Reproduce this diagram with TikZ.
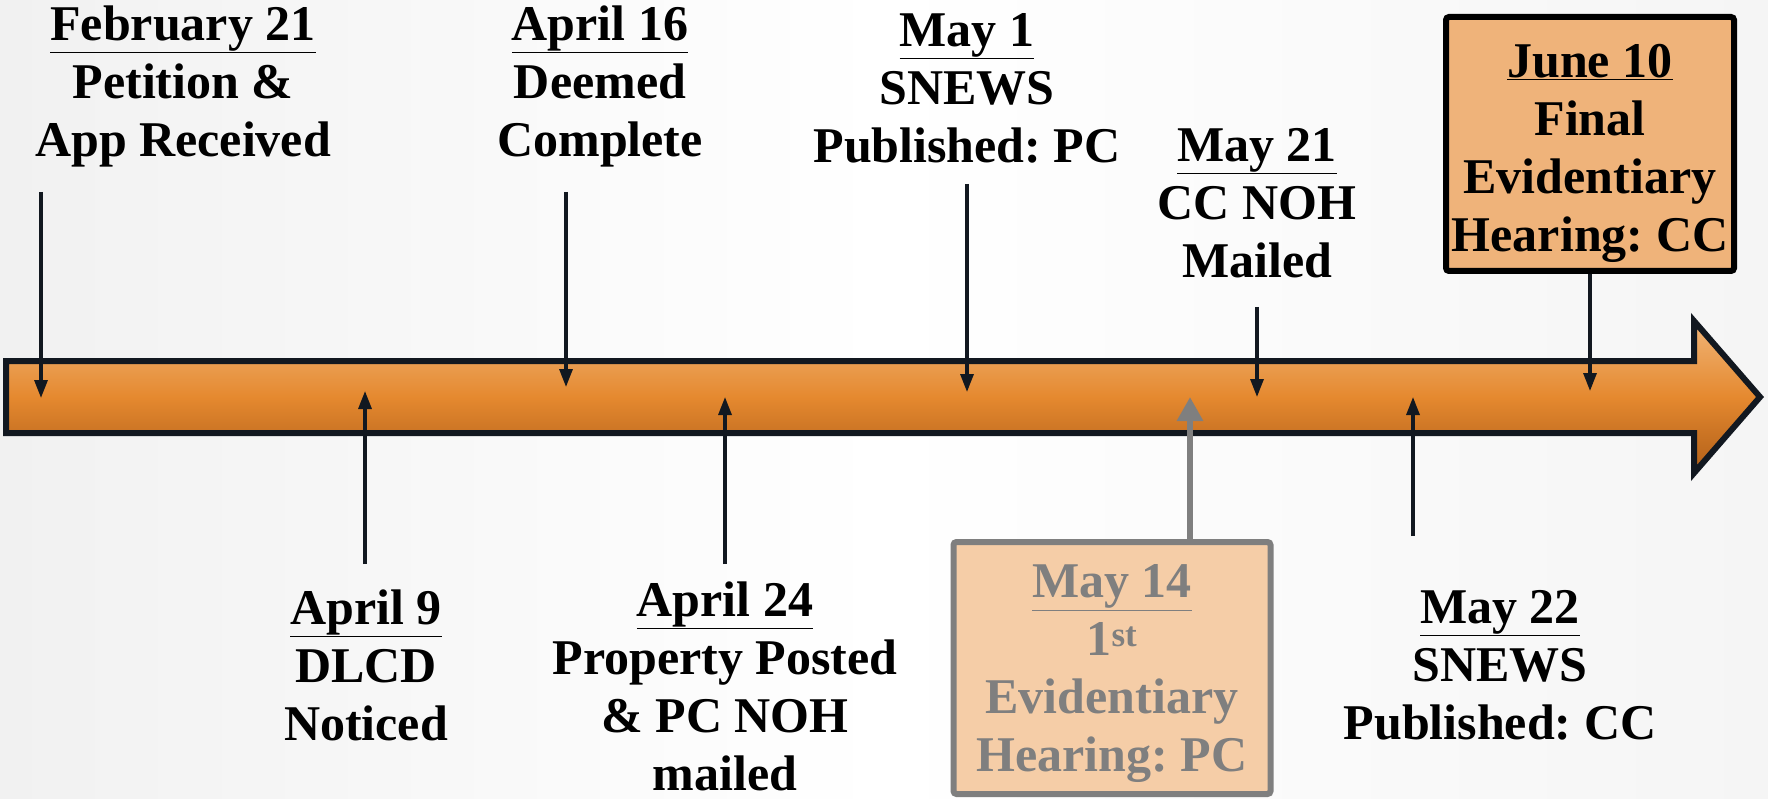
\documentclass[tikz,border=0pt]{standalone}
\usepackage{fontspec}
\setmainfont{Liberation Serif}
\usetikzlibrary{arrows.meta}
\definecolor{barline}{HTML}{121820}
\definecolor{barA}{HTML}{F2B67A}
\definecolor{barB}{HTML}{EA9E52}
\definecolor{barC}{HTML}{E5892F}
\definecolor{barD}{HTML}{CB7424}
\definecolor{barE}{HTML}{B05F18}
\definecolor{junefill}{HTML}{EFB37A}
\definecolor{mayfill}{HTML}{F5CDA7}
\definecolor{graytxt}{HTML}{7F7F7F}
\definecolor{bgleft}{HTML}{F1F1F1}
\definecolor{bgright}{HTML}{F5F5F5}
\frenchspacing
\begin{document}
\begin{tikzpicture}[x=1pt,y=-1pt,
  lbl/.style={align=center, font=\bfseries\fontsize{50}{58}\selectfont, inner sep=0pt},
  tick/.style={line width=3.2pt, draw=barline, -{Triangle[length=18pt,width=13pt]}},
  graytick/.style={line width=6pt, draw=graytxt, -{Triangle[length=24pt,width=25pt]}},
  junebox/.style={draw=black, line width=6pt, fill=junefill, rounded corners=3pt, minimum width=288pt, minimum height=254pt, inner sep=0pt},
  maybox/.style={draw=graytxt, line width=6pt, fill=mayfill, rounded corners=3pt, minimum width=317pt, minimum height=252pt, inner sep=0pt}]
\useasboundingbox (0,0) rectangle (1768,799);
\shade[left color=bgleft, right color=bgright, middle color=white] (0,0) rectangle (1768,799);
% timeline bar
\begin{scope}
  \clip (6,361) -- (1694,361) -- (1694,321) -- (1760,397) -- (1694,473) -- (1694,433) -- (6,433) -- cycle;
  \shade[top color=barA, bottom color=barB] (0,318) rectangle (1768,361);
  \shade[top color=barB, bottom color=barC] (0,361) rectangle (1768,397);
  \shade[top color=barC, bottom color=barD] (0,397) rectangle (1768,433);
  \shade[top color=barD, bottom color=barE] (0,433) rectangle (1768,476);
\end{scope}
\draw[line width=6pt, draw=barline, line join=miter]
  (6,361) -- (1694,361) -- (1694,321) -- (1760,397) -- (1694,473) -- (1694,433) -- (6,433) -- cycle;
% labels above
\node[lbl] (feb) at (183,86) {\underline{February 21}\\Petition \&\\App Received};
\node[lbl] (apr16) at (600,86) {\underline{April 16}\\Deemed\\Complete};
\node[lbl] (may1) at (967,88) {\underline{May 1}\\SNEWS\\Published: PC};
\node[lbl] (may21) at (1257,203) {\underline{May 21}\\CC NOH\\Mailed};
\node[junebox] (jun10) at (1590,144) {};
\node[lbl] (jun10t) at (1590,153) {\underline{June 10}\\Final\\Evidentiary\\Hearing: CC};
% labels below
\node[lbl] (apr9) at (366,665) {\underline{April 9}\\DLCD\\Noticed};
\node[lbl] (apr24) at (725,686) {\underline{April 24}\\Property Posted\\\& PC NOH\\mailed};
\node[maybox] (may14) at (1112,668) {};
\node[lbl, text=graytxt] (may14t) at (1112,674) {\underline{May 14}\\1\textsuperscript{st}\\Evidentiary\\Hearing: PC};
\node[lbl] (may22) at (1500,665) {\underline{May 22}\\SNEWS\\Published: CC};
% arrow end points
\coordinate (febs) at (41,192);   \coordinate (febe) at (41,398);
\coordinate (a16s) at (566,192);  \coordinate (a16e) at (566,387);
\coordinate (m1s) at (967,184);   \coordinate (m1e) at (967,392);
\coordinate (m21s) at (1257,307); \coordinate (m21e) at (1257,397);
\coordinate (j10e) at (1590,391);
\coordinate (a9s) at (365,564);   \coordinate (a9e) at (365,391);
\coordinate (a24s) at (725,564);  \coordinate (a24e) at (725,397);
\coordinate (m14e) at (1190,397);
\coordinate (m22s) at (1413,536); \coordinate (m22e) at (1413,397);
% arrows
\draw[tick] (febs) -- (febe);
\draw[tick] (a16s) -- (a16e);
\draw[tick] (m1s) -- (m1e);
\draw[tick] (m21s) -- (m21e);
\draw[tick] (jun10.south -| j10e) -- (j10e);
\draw[tick] (a9s) -- (a9e);
\draw[tick] (a24s) -- (a24e);
\draw[graytick] (may14.north -| m14e) -- (m14e);
\draw[tick] (m22s) -- (m22e);
\end{tikzpicture}
\end{document}
